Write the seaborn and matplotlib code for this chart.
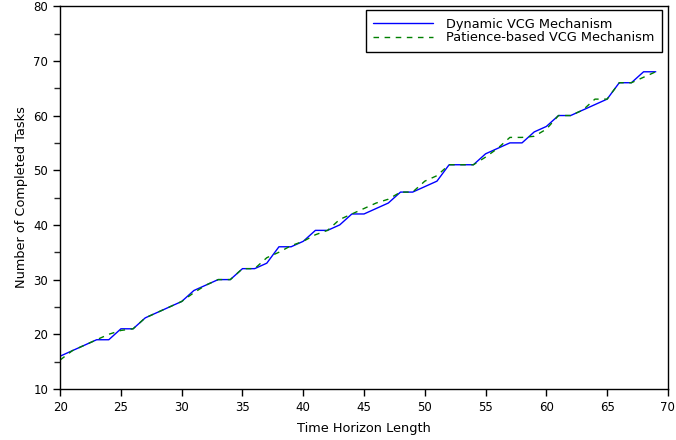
import pandas as pd
import matplotlib
matplotlib.use("Agg")
import matplotlib.pyplot as plt
import seaborn as sns

# dados
horizon = list(range(20, 70))
dynamic_vcg = [16, 17, 18, 19, 19, 21, 21, 23, 24, 25,
               26, 28, 29, 30, 30, 32, 32, 33, 36, 36,
               37, 39, 39, 40, 42, 42, 43, 44, 46, 46,
               47, 48, 51, 51, 51, 53, 54, 55, 55, 57,
               58, 60, 60, 61, 62, 63, 66, 66, 68, 68]
patience_vcg = [15.3, 17, 18, 19, 20, 20.7, 21, 23, 24, 25,
                26, 27.6, 29, 30, 30, 32, 32, 34, 35, 36.2,
                37, 38.2, 39, 41, 42, 43, 44, 44.7, 46, 46,
                48, 49, 51, 51, 51, 52.4, 54, 56, 56, 56.2,
                57.5, 60, 60, 61, 63, 63, 66, 66, 67, 68]

df = pd.DataFrame({"horizon": horizon, "dynamic": dynamic_vcg, "patience": patience_vcg})

sns.set_style("ticks")
plt.rcParams["font.family"] = ["DejaVu Sans"]
plt.rcParams["text.color"] = "black"
plt.rcParams["axes.labelcolor"] = "black"

fig, ax = plt.subplots(figsize=(6.76, 4.4), dpi=100)
fig.subplots_adjust(left=0.089, right=0.988, bottom=0.116, top=0.986)

sns.lineplot(data=df, x="horizon", y="dynamic", ax=ax, color="#0000ff",
             linewidth=1, label="Dynamic VCG Mechanism")
sns.lineplot(data=df, x="horizon", y="patience", ax=ax, color="#008000",
             linewidth=1, linestyle=(0, (4, 4)), label="Patience-based VCG Mechanism")

ax.set_xlim(20, 70)
ax.set_ylim(10, 80)
ax.set_xticks(range(20, 71, 5))
ax.set_yticks(range(10, 81, 10))
ax.set_yticks(range(15, 80, 10), minor=True)
ax.tick_params(axis="both", direction="out", length=5, width=1, labelsize=8.5, colors="black")
ax.tick_params(axis="y", which="minor", direction="out", length=4, width=1)
for s in ax.spines.values():
    s.set_visible(True)
    s.set_color("black")
    s.set_linewidth(1)

ax.set_xlabel("Time Horizon Length", fontsize=9.3, labelpad=6)
ax.set_ylabel("Number of Completed Tasks", fontsize=9.3)

leg = ax.legend(loc="upper right", bbox_to_anchor=(0.99, 0.99), borderaxespad=0,
                fontsize=9.3, handlelength=4.6, handletextpad=1.0, labelspacing=0.05,
                frameon=True, fancybox=False, edgecolor="black",
                framealpha=1, borderpad=0.6)
leg.get_frame().set_linewidth(1)

fig.savefig("out.png", dpi=100)
